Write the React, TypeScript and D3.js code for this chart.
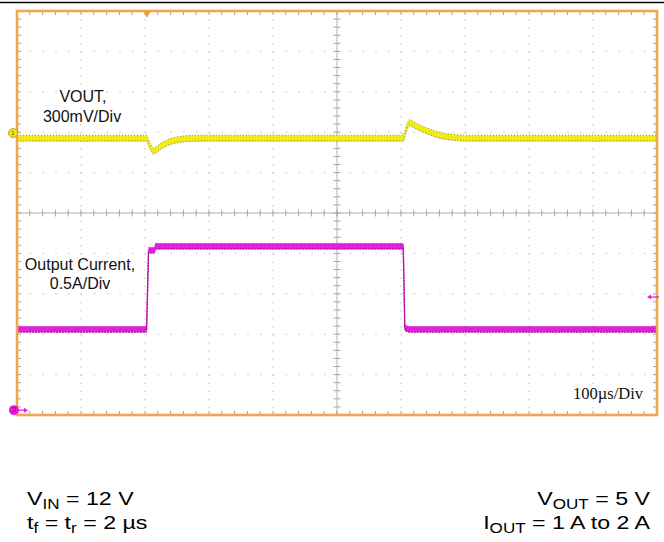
import React from 'react';
import * as d3 from 'd3';

// ---- Data (time in µs, 100 µs/div, 10 divisions) ----
const timeDivisions = d3.range(0, 11);
const verticalDivisions = d3.range(-5, 6);

// VOUT deviation (mV) from its steady level, 300 mV/div
const voutTime = [0, 203, 208, 213, 218, 226, 236, 248, 262, 280, 604, 607, 611, 614, 620, 630, 640, 650, 660, 671, 685, 700, 1000];
const voutDevMV = [0, 0, -60, -97, -85, -55, -30, -14, -5, 0, 0, 50, 105, 116, 100, 74, 55, 37, 22, 12, 4, 0, 0];
const voutLevelMV = -38; // steady level relative to the channel-1 marker

// Output current (A), 0.5 A/div
const currentTime = [0, 202.5, 205.5, 215, 216, 603.5, 606, 612, 1000];
const currentAmps = [1.0, 1.0, 1.98, 1.98, 2.03, 2.03, 1.02, 1.0, 1.0];

const ch1MarkerDiv = 1.98;
const ch3GroundDiv = -4.88;
const triggerTime = 203;
const triggerLevelAmps = 1.4;

const voutLabel = ['VOUT,', '300mV/Div'];
const currentLabel = ['Output Current,', '0.5A/Div'];
const timebaseLabel = '100µs/Div';

export default function App() {
  const W = 664, H = 542;
  const left = 17, right = 657, top = 11, bottom = 415;
  const x = d3.scaleLinear().domain([0, 1000]).range([left, right]);
  const yDiv = d3.scaleLinear().domain([-5, 5]).range([bottom, top]);
  const divH = (bottom - top) / 10;
  const divW = (right - left) / 10;
  const yV = (mv: number) => yDiv(ch1MarkerDiv + (mv + voutLevelMV) / 300);
  const yI = (a: number) => yDiv(ch3GroundDiv + a / 0.5);

  const vout = voutTime.map((t, i) => ({ t, v: voutDevMV[i] }));
  const cur = currentTime.map((t, i) => ({ t, v: currentAmps[i] }));

  const half = 3;
  const vArea = d3.area<any>().x(d => x(d.t)).y0(d => yV(d.v) - half).y1(d => yV(d.v) + half);
  const vLine = (off: number) => d3.line<any>().x(d => x(d.t)).y(d => yV(d.v) + off)(vout) || '';
  const iArea = d3.area<any>().x(d => x(d.t)).y0(d => yI(d.v) - half).y1(d => yI(d.v) + half);
  const iLine = (off: number) => d3.line<any>().x(d => x(d.t)).y(d => yI(d.v) + off)(cur) || '';

  const minorX = d3.range(0, 51).map(i => left + (i * divW) / 5);
  const minorY = d3.range(0, 51).map(i => top + (i * divH) / 5);
  const cx = x(500);
  const cy = yDiv(0);
  const tickGrey = '#a3a3a3';
  const border = '#eda84e';
  const sans = 'Liberation Sans, Arial, sans-serif';
  const subFs = 14;
  const sx = 1.22;

  return (
    <svg width={W} height={H} style={{ position: 'absolute', left: 0, top: 0, background: '#fff' }}>
      <rect x={0} y={0} width={W} height={H} fill="#fff" />
      <line x1={0} x2={W} y1={2.5} y2={2.5} stroke="#000" strokeWidth={1.6} />

      {/* dotted grid */}
      {timeDivisions.filter(i => i > 0 && i < 10 && i !== 5).map(i => (
        <line key={'gv' + i} x1={x(i * 100)} x2={x(i * 100)} y1={top} y2={bottom}
          stroke="#c4c4c4" strokeWidth={1.2} strokeDasharray={`1.3 ${divH / 5 - 1.3}`} />
      ))}
      {verticalDivisions.filter(j => j > -5 && j < 5 && j !== 0).map(j => (
        <line key={'gh' + j} x1={left} x2={right} y1={yDiv(j)} y2={yDiv(j)}
          stroke="#c4c4c4" strokeWidth={1.2} strokeDasharray={`1.3 ${divW / 5 - 1.3}`} />
      ))}

      {/* center axes */}
      <line x1={left} x2={right} y1={cy} y2={cy} stroke="#b0b0a8" strokeWidth={1} />
      <line x1={cx} x2={cx} y1={top} y2={bottom} stroke="#b0b0a8" strokeWidth={1} />
      {minorX.map((px, i) => (
        <g key={'tx' + i}>
          <line x1={px} x2={px} y1={cy - 3.5} y2={cy + 3.5} stroke={tickGrey} strokeWidth={1} />
          <line x1={px} x2={px} y1={top} y2={top + 4} stroke={tickGrey} strokeWidth={1} />
          <line x1={px} x2={px} y1={bottom - 4} y2={bottom} stroke={tickGrey} strokeWidth={1} />
        </g>
      ))}
      {minorY.map((py, i) => (
        <g key={'ty' + i}>
          <line x1={cx - 3.5} x2={cx + 3.5} y1={py} y2={py} stroke={tickGrey} strokeWidth={1} />
          <line x1={left} x2={left + 4} y1={py} y2={py} stroke={tickGrey} strokeWidth={1} />
          <line x1={right - 4} x2={right} y1={py} y2={py} stroke={tickGrey} strokeWidth={1} />
        </g>
      ))}

      {/* VOUT trace */}
      <path d={vArea(vout) || ''} fill="#f0ec16" />
      <path d={vLine(-half)} fill="none" stroke="#6f6b12" strokeWidth={1} strokeDasharray="1 2" opacity={0.7} />
      <path d={vLine(half)} fill="none" stroke="#6f6b12" strokeWidth={1} strokeDasharray="1.5 1.5" opacity={0.7} />

      {/* Current trace */}
      <path d={iArea(cur) || ''} fill="#e41ddb" />
      <path d={iLine(0)} fill="none" stroke="#e41ddb" strokeWidth={1.4} />
      <path d={iLine(half)} fill="none" stroke="#7a1572" strokeWidth={1} strokeDasharray="2 1" opacity={0.8} />
      <path d={iLine(-half)} fill="none" stroke="#a4129a" strokeWidth={1} strokeDasharray="1 3" opacity={0.5} />

      {/* frame */}
      <rect x={left} y={top} width={right - left} height={bottom - top} fill="none" stroke={border} strokeWidth={2.6} />

      {/* trigger position marker */}
      <path d={`M${x(triggerTime) - 4},${top} L${x(triggerTime) + 4},${top} L${x(triggerTime)},${top + 7} Z`} fill="#f0a030" />

      {/* channel 1 marker */}
      <circle cx={13} cy={yDiv(ch1MarkerDiv)} r={4.5} fill="#f2e61a" stroke="#caa21a" strokeWidth={1} />
      <text x={13} y={yDiv(ch1MarkerDiv) + 2.3} fontSize={6} textAnchor="middle" fill="#5a4a00" fontFamily={sans}>1</text>

      {/* channel 3 marker */}
      <circle cx={14} cy={yDiv(ch3GroundDiv)} r={5} fill="#e41ddb" />
      <text x={14} y={yDiv(ch3GroundDiv) + 2.3} fontSize={6.5} textAnchor="middle" fill="#6a0a66" fontFamily={sans}>3</text>
      <line x1={19} x2={26} y1={yDiv(ch3GroundDiv)} y2={yDiv(ch3GroundDiv)} stroke="#e41ddb" strokeWidth={1.3} />
      <path d={`M${28},${yDiv(ch3GroundDiv)} L${24},${yDiv(ch3GroundDiv) - 2.5} L${24},${yDiv(ch3GroundDiv) + 2.5} Z`} fill="#e41ddb" />

      {/* trigger level arrow */}
      <line x1={650} x2={659} y1={yI(triggerLevelAmps)} y2={yI(triggerLevelAmps)} stroke="#e41ddb" strokeWidth={1.3} />
      <path d={`M${647},${yI(triggerLevelAmps)} L${651},${yI(triggerLevelAmps) - 2.5} L${651},${yI(triggerLevelAmps) + 2.5} Z`} fill="#e41ddb" />

      {/* labels */}
      <text x={83} y={102} fontSize={16} textAnchor="middle" fontFamily={sans} fill="#111">{voutLabel[0]}</text>
      <text x={82} y={122} fontSize={16} textAnchor="middle" fontFamily={sans} fill="#111">{voutLabel[1]}</text>
      <text x={80} y={270} fontSize={16} textAnchor="middle" fontFamily={sans} fill="#111">{currentLabel[0]}</text>
      <text x={80} y={289} fontSize={16} textAnchor="middle" fontFamily={sans} fill="#111">{currentLabel[1]}</text>
      <text x={573} y={399} fontSize={16.5} fontFamily="Liberation Serif, Times New Roman, serif" fill="#111">{timebaseLabel}</text>

      {/* conditions */}
      <g fontFamily={sans} fontSize={19} fill="#000">
        <g transform={`translate(27,505) scale(${sx},1)`}>
          <text x={0} y={0}>V<tspan fontSize={subFs} dy={4}>IN</tspan><tspan dy={-4}> = 12 V</tspan></text>
        </g>
        <g transform={`translate(27,529) scale(${sx},1)`}>
          <text x={0} y={0}>t<tspan fontSize={subFs} dy={4}>f</tspan><tspan dy={-4}> = t</tspan><tspan fontSize={subFs} dy={4}>r</tspan><tspan dy={-4}> = 2 µs</tspan></text>
        </g>
        <g transform={`translate(650,505) scale(${sx},1)`}>
          <text x={0} y={0} textAnchor="end">V<tspan fontSize={subFs} dy={4}>OUT</tspan><tspan dy={-4}> = 5 V</tspan></text>
        </g>
        <g transform={`translate(650,529) scale(${sx},1)`}>
          <text x={0} y={0} textAnchor="end">I<tspan fontSize={subFs} dy={4}>OUT</tspan><tspan dy={-4}> = 1 A to 2 A</tspan></text>
        </g>
      </g>
    </svg>
  );
}
